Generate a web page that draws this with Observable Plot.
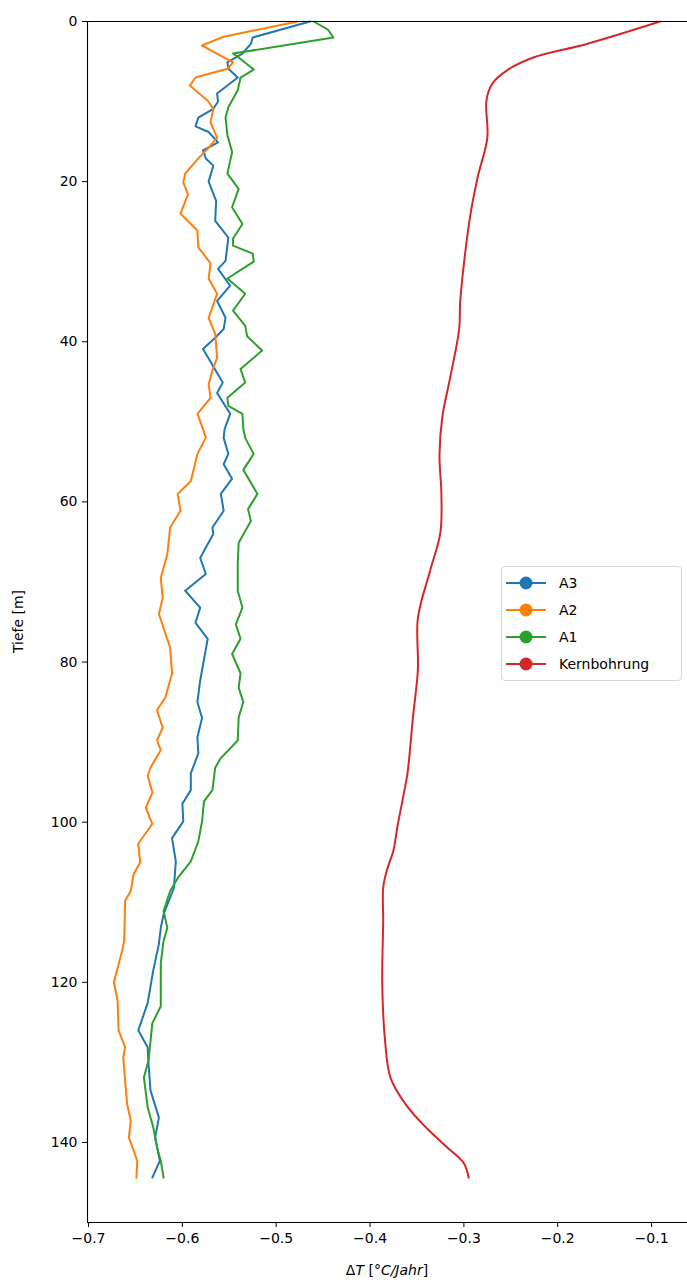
<!DOCTYPE html>
<html><head><meta charset="utf-8">
<script src="https://cdn.jsdelivr.net/npm/d3@7"></script>
<script src="https://cdn.jsdelivr.net/npm/@observablehq/plot@0.6"></script>
<style>
body{margin:0;background:#fff;font-family:"DejaVu Sans",sans-serif;}
#wrap{position:relative;width:687px;height:1282px;overflow:hidden;}
#legend{position:absolute;left:501px;top:566px;width:181px;height:115px;border:1px solid #d6d6d6;border-radius:4px;background:#fff;box-sizing:border-box;font-size:14px;color:#000;}
.row{position:absolute;left:3px;height:20px;display:flex;align-items:center;}
.row span{margin-left:12px;}
</style></head><body><div id="wrap"></div>
<script>
const seriesNames = ["A3", "A2", "A1", "Kernbohrung"];
const seriesColors = ["#1f77b4", "#ff7f0e", "#2ca02c", "#d62728"];
const xTicks = [-0.7, -0.6, -0.5, -0.4, -0.3, -0.2, -0.1];
const yTicks = [0, 20, 40, 60, 80, 100, 120, 140];
const xDomain = [-0.7011, -0.0617];
const yDomain = [0, 150];

const a3Depth = [0,2,2.8,4,5.1,5.9,7,9,10,10.9,12,13.1,13.8,15.1,16.1,17.1,18,20,22.4,24.9,27,29.9,30.9,33,34.9,37,38.4,39.5,40.9,42.1,45.1,46.4,49,50.9,52,54,55.3,57.1,59,61.1,63.2,64,65.7,67,69,71.1,73.2,75.1,77.1,81,82.3,85,87,89.4,91.4,93.9,96,97.7,99.9,102,104.9,108.2,111.5,113.2,115.2,118.5,122.6,126,128.1,130.2,133.5,136.9,139.4,142.3,144.4];
const a3Value = [-0.464,-0.525,-0.527,-0.536,-0.552,-0.551,-0.541,-0.563,-0.562,-0.567,-0.583,-0.586,-0.572,-0.562,-0.578,-0.575,-0.567,-0.572,-0.564,-0.565,-0.551,-0.554,-0.562,-0.549,-0.563,-0.554,-0.556,-0.565,-0.578,-0.572,-0.557,-0.563,-0.549,-0.555,-0.556,-0.551,-0.556,-0.547,-0.559,-0.556,-0.568,-0.567,-0.575,-0.581,-0.575,-0.597,-0.581,-0.586,-0.573,-0.579,-0.581,-0.584,-0.579,-0.584,-0.583,-0.591,-0.591,-0.600,-0.599,-0.611,-0.607,-0.609,-0.620,-0.623,-0.625,-0.631,-0.637,-0.647,-0.637,-0.636,-0.634,-0.625,-0.629,-0.624,-0.632];

const a2Depth = [0,1.9,3,5.1,5.9,7,8,9.9,10.9,12.6,14.5,15.9,17.1,19,20.1,21.6,24,26.1,28.2,30.2,32.1,34,37,39,42,43.6,45.3,47,49,50.9,52,54,57.4,59,61.1,63.2,66.5,69.5,72,74,78.2,81.4,84.4,86,88.2,89.8,91,93.2,94.2,96.3,98.2,100.2,102.7,105,106.5,108.6,109.8,114.8,116,120,122.3,126,128.1,129.4,135.1,137.3,139.4,142.3,144.4];
const a2Value = [-0.477,-0.556,-0.579,-0.546,-0.552,-0.586,-0.592,-0.573,-0.567,-0.570,-0.563,-0.573,-0.583,-0.597,-0.599,-0.594,-0.602,-0.584,-0.583,-0.570,-0.572,-0.563,-0.572,-0.565,-0.563,-0.568,-0.572,-0.570,-0.584,-0.578,-0.575,-0.584,-0.591,-0.605,-0.602,-0.613,-0.616,-0.623,-0.621,-0.625,-0.613,-0.611,-0.618,-0.627,-0.621,-0.627,-0.623,-0.634,-0.637,-0.632,-0.639,-0.632,-0.647,-0.645,-0.652,-0.655,-0.661,-0.662,-0.664,-0.673,-0.669,-0.668,-0.661,-0.663,-0.659,-0.655,-0.657,-0.648,-0.649];

const a1Depth = [0,1,2,4,4.5,6,7,8.6,10.7,12,14.2,16.3,19,20.9,23.2,25.3,27.1,28,29,30,32.1,34,36.1,38,39.3,41.1,43.4,45.1,47,48,49,50.9,52,54,56,59,60.9,62.4,65.1,67.8,71.1,73.2,75.3,77.1,79,81.4,83.2,85,86.9,89.8,92,93.2,96,97.4,99.9,102.4,104.9,107,108.6,111.1,113.2,114.8,117.6,123,125.1,129.7,131.9,135.6,138.1,140.6,142.3,144.4];
const a1Value = [-0.460,-0.445,-0.439,-0.546,-0.540,-0.524,-0.538,-0.541,-0.551,-0.554,-0.552,-0.547,-0.552,-0.540,-0.547,-0.536,-0.546,-0.546,-0.525,-0.524,-0.552,-0.533,-0.546,-0.533,-0.531,-0.515,-0.538,-0.533,-0.552,-0.551,-0.536,-0.535,-0.533,-0.524,-0.535,-0.520,-0.530,-0.527,-0.540,-0.541,-0.541,-0.536,-0.543,-0.538,-0.547,-0.538,-0.540,-0.535,-0.540,-0.541,-0.559,-0.565,-0.568,-0.577,-0.579,-0.583,-0.591,-0.605,-0.613,-0.620,-0.616,-0.620,-0.623,-0.623,-0.632,-0.636,-0.641,-0.637,-0.631,-0.627,-0.623,-0.620];

const kbDepth = [0,2.8,4.5,6.1,7.8,9.9,14.5,19.3,24.1,30.3,35.1,38.4,44.7,49.4,54.2,58.9,63.8,68.6,74.5,80.9,86.6,93.8,96.4,100.7,103.5,106,108.2,112.3,120.1,127.3,132,135.4,138.3,140.6,142.6,144.4];
const kbValue = [-0.091,-0.169,-0.226,-0.254,-0.270,-0.276,-0.275,-0.285,-0.293,-0.300,-0.304,-0.305,-0.315,-0.323,-0.326,-0.324,-0.325,-0.336,-0.349,-0.349,-0.354,-0.360,-0.364,-0.371,-0.375,-0.382,-0.386,-0.386,-0.387,-0.384,-0.378,-0.361,-0.339,-0.318,-0.300,-0.295];

function rows(name, depths, values) {
  return depths.map((d, i) => ({series: name, depth: d, value: values[i]}));
}
const profiles = [
  ...rows("A3", a3Depth, a3Value),
  ...rows("A2", a2Depth, a2Value),
  ...rows("A1", a1Depth, a1Value)
];
const core = rows("Kernbohrung", kbDepth, kbValue);

const fmt = d => d.toFixed(1).replace("-", "\u2212");

const plot = Plot.plot({
  width: 687,
  height: 1282,
  marginLeft: 87,
  marginRight: 0,
  marginTop: 21,
  marginBottom: 60,
  style: {fontFamily: "DejaVu Sans", fontSize: "14px", background: "#fff", color: "#000"},
  x: {domain: xDomain, axis: null},
  y: {domain: yDomain, axis: null, reverse: true},
  color: {domain: seriesNames, range: seriesColors},
  marks: [
    Plot.line(profiles, {x: "value", y: "depth", z: "series", stroke: "series", strokeWidth: 2}),
    Plot.line(core, {x: "value", y: "depth", stroke: "series", strokeWidth: 2, curve: "catmull-rom"}),
    Plot.ruleX([xDomain[0]], {stroke: "#000", strokeWidth: 1.1}),
    Plot.ruleY(yDomain, {stroke: "#000", strokeWidth: 1.1}),
    Plot.axisX(xTicks, {anchor: "bottom", tickSize: 5, tickPadding: 6, tickFormat: fmt, label: null, fontSize: 14, stroke: "#000"}),
    Plot.axisY(yTicks, {anchor: "left", tickSize: 5, tickPadding: 5, label: null, fontSize: 14, stroke: "#000"})
  ]
});

const wrap = document.getElementById("wrap");
wrap.appendChild(plot);

const svg = d3.select(plot);
const xr = plot.scale("x").range;
const yr = plot.scale("y").range;
const xl = svg.append("text")
  .attr("x", (xr[0] + xr[1]) / 2).attr("y", 1275)
  .attr("text-anchor", "middle").attr("font-size", 14).attr("fill", "#000")
  .attr("font-family", "DejaVu Sans");
xl.append("tspan").text("\u0394");
xl.append("tspan").attr("font-style", "italic").text("T");
xl.append("tspan").text(" [");
xl.append("tspan").attr("font-style", "italic").text("\u00b0C/Jahr");
xl.append("tspan").text("]");

svg.append("text")
  .attr("transform", `translate(23,${(yr[0] + yr[1]) / 2}) rotate(-90)`)
  .attr("text-anchor", "middle").attr("font-size", 14).attr("fill", "#000")
  .attr("font-family", "DejaVu Sans")
  .text("Tiefe [m]");

const legend = document.createElement("div");
legend.id = "legend";
seriesNames.forEach((name, i) => {
  const r = document.createElement("div");
  r.className = "row";
  r.style.top = (6 + i * 27) + "px";
  const c = seriesColors[i];
  r.innerHTML = `<svg width="42" height="20"><line x1="1" y1="10" x2="41" y2="10" stroke="${c}" stroke-width="2.2"/><circle cx="21" cy="10" r="6.5" fill="${c}"/></svg><span>${name}</span>`;
  legend.appendChild(r);
});
wrap.appendChild(legend);
</script>
</body></html>
